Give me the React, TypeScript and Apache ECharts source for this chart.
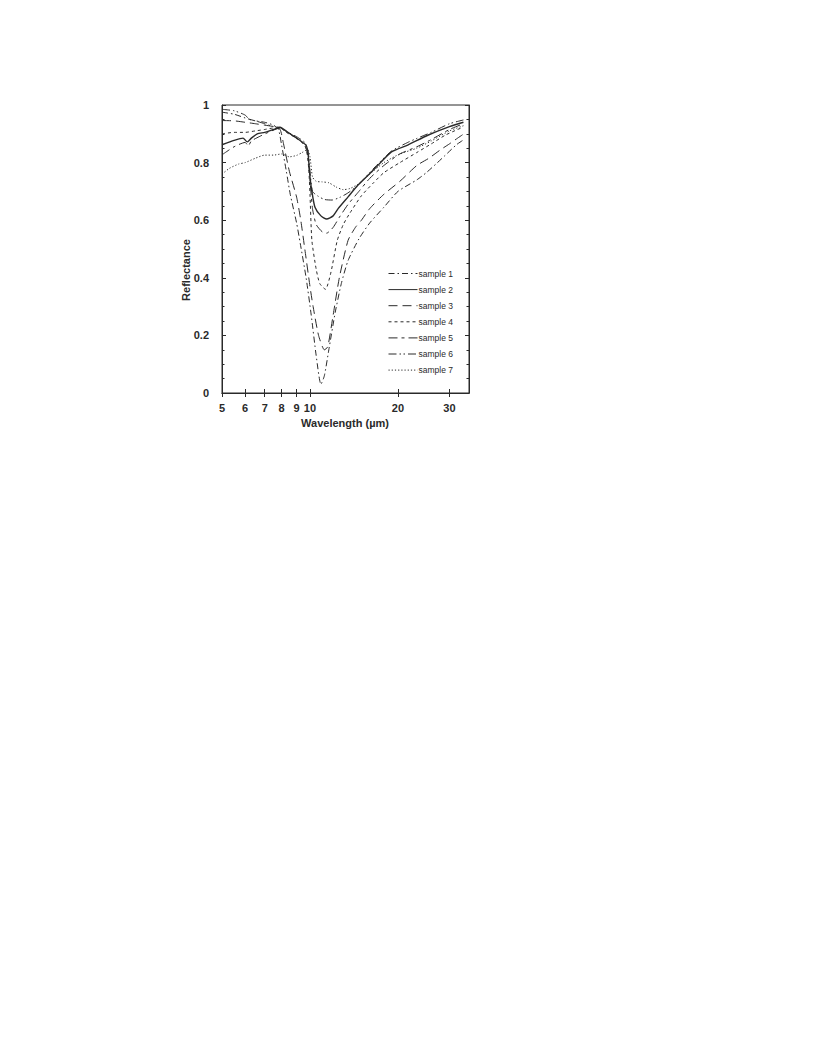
import { useEffect, useRef } from 'react';
import * as echarts from 'echarts';

// Tick labels
const xTickValues = [5, 6, 7, 8, 9, 10, 20, 30];

const sampleNames = ['sample 1', 'sample 2', 'sample 3', 'sample 4', 'sample 5', 'sample 6', 'sample 7'];

// sample 1 (dash-dot)
const s1Wave = [5, 5.5, 6, 6.5, 7, 7.5, 7.8, 8.0, 8.3, 8.56, 9.0, 9.26, 9.7, 10.1, 10.5, 10.9, 11.2, 11.6, 12.2, 12.8, 13.5, 14.7, 16, 17.9, 20, 23.2, 25, 27.1, 29, 31.7, 33.3];
const s1Refl = [0.975, 0.968, 0.955, 0.945, 0.94, 0.93, 0.915, 0.86, 0.77, 0.69, 0.59, 0.52, 0.4, 0.27, 0.13, 0.03, 0.06, 0.15, 0.28, 0.38, 0.46, 0.535, 0.59, 0.645, 0.7, 0.74, 0.765, 0.797, 0.825, 0.862, 0.877];

// sample 2 (solid)
const s2Wave = [5, 5.5, 5.9, 6.1, 6.3, 6.6, 7, 7.5, 7.9, 8.4, 9.0, 9.7, 9.85, 10.0, 10.15, 10.4, 10.9, 11.4, 12.0, 12.5, 13.5, 14.6, 16.7, 19, 21.6, 25.3, 30, 33.5];
const s2Refl = [0.862, 0.877, 0.885, 0.872, 0.885, 0.9, 0.905, 0.915, 0.923, 0.905, 0.885, 0.86, 0.83, 0.75, 0.7, 0.645, 0.615, 0.604, 0.615, 0.641, 0.681, 0.722, 0.78, 0.837, 0.861, 0.895, 0.925, 0.94];

// sample 3 (long dash)
const s3Wave = [5, 5.5, 6, 6.5, 7, 7.5, 7.9, 8.1, 8.5, 9.0, 9.3, 9.6, 10.0, 10.25, 10.7, 11.2, 11.5, 12.0, 12.6, 13.5, 14.3, 15, 16, 17.9, 20.3, 23.2, 25.5, 28, 30, 32, 33.3];
const s3Refl = [0.946, 0.945, 0.94, 0.935, 0.93, 0.925, 0.915, 0.87, 0.77, 0.68, 0.6, 0.5, 0.37, 0.3, 0.2, 0.15, 0.16, 0.27, 0.4, 0.53, 0.575, 0.6, 0.64, 0.69, 0.735, 0.79, 0.815, 0.845, 0.865, 0.885, 0.897];

// sample 4 (short dash)
const s4Wave = [5, 5.5, 6, 6.5, 7, 7.5, 7.9, 8.3, 8.8, 9.3, 9.7, 9.9, 10.0, 10.15, 10.5, 10.8, 11.3, 11.8, 12.4, 13.0, 13.7, 15, 16.5, 17.9, 20.3, 23.2, 26, 29, 32, 33.3];
const s4Refl = [0.9, 0.905, 0.905, 0.91, 0.915, 0.92, 0.92, 0.905, 0.89, 0.875, 0.85, 0.78, 0.69, 0.53, 0.43, 0.38, 0.36, 0.42, 0.53, 0.585, 0.625, 0.685, 0.73, 0.765, 0.8, 0.835, 0.865, 0.895, 0.915, 0.922];

// sample 5 (long-short dash)
const s5Wave = [5, 5.5, 6.0, 6.15, 6.3, 6.7, 7.2, 7.9, 8.4, 9.0, 9.6, 9.85, 10.0, 10.2, 10.5, 11.0, 11.4, 12.0, 12.6, 13.5, 14.7, 16, 17.9, 20.3, 23.2, 26, 30, 33.5];
const s5Refl = [0.827, 0.855, 0.87, 0.858, 0.875, 0.89, 0.905, 0.92, 0.905, 0.885, 0.86, 0.82, 0.74, 0.64, 0.585, 0.56, 0.555, 0.575, 0.61, 0.655, 0.7, 0.745, 0.79, 0.83, 0.855, 0.88, 0.915, 0.935];

// sample 6 (dash-dot-dot)
const s6Wave = [5, 5.5, 6.0, 6.2, 6.5, 7, 7.5, 7.9, 8.4, 9.0, 9.6, 9.85, 10.0, 10.2, 10.6, 11.2, 11.9, 12.7, 13.5, 14.6, 16.7, 19, 21.6, 23.2, 26, 30, 33.5];
const s6Refl = [0.985, 0.98, 0.965, 0.95, 0.945, 0.935, 0.925, 0.922, 0.905, 0.89, 0.87, 0.84, 0.77, 0.7, 0.685, 0.672, 0.67, 0.68, 0.695, 0.722, 0.785, 0.84, 0.87, 0.884, 0.905, 0.935, 0.948];

// sample 7 (dotted)
const s7Wave = [5, 5.3, 5.7, 6.0, 6.5, 7.0, 7.5, 8.0, 8.5, 9.0, 9.4, 9.8, 10.0, 10.2, 10.5, 11.0, 11.6, 12.3, 13.0, 13.7, 14.6, 16.0, 17.9, 20.3, 23.2, 26, 30, 33.5];
const s7Refl = [0.76, 0.78, 0.795, 0.8, 0.815, 0.826, 0.826, 0.83, 0.82, 0.825, 0.835, 0.845, 0.82, 0.75, 0.735, 0.733, 0.73, 0.715, 0.706, 0.71, 0.725, 0.76, 0.8, 0.83, 0.85, 0.875, 0.91, 0.928];

const waves = [s1Wave, s2Wave, s3Wave, s4Wave, s5Wave, s6Wave, s7Wave];
const refls = [s1Refl, s2Refl, s3Refl, s4Refl, s5Refl, s6Refl, s7Refl];

const dashPatterns: (number[] | 'solid')[] = [
  [6, 3, 1.5, 3],
  'solid',
  [9, 5],
  [3, 3],
  [9, 4, 3, 4],
  [8, 3, 1.5, 2.5, 1.5, 3],
  [1.2, 2],
];

const FONT = '"Liberation Sans", Arial, Helvetica, sans-serif';
const INK = '#2a2a2a';

export default function App() {
  const ref = useRef<HTMLDivElement>(null);
  useEffect(() => {
    const chart = echarts.init(ref.current!, null, { renderer: 'svg' });
    const xMin = Math.log10(5);
    const xMax = Math.log10(35);
    const xTicks = xTickValues.map((v) => Math.log10(v));
    const fmtX = (v: number) => String(Math.round(Math.pow(10, v)));
    const fmtY = (v: number) => String(Math.round(v * 10) / 10);

    const series = sampleNames.map((name, i) => ({
      name,
      type: 'line',
      data: waves[i].map((w, j) => [Math.log10(w), refls[i][j]]),
      showSymbol: false,
      symbol: 'none',
      smooth: 0.2,
      lineStyle: {
        color: INK,
        width: i === 1 ? 1.4 : 1,
        type: dashPatterns[i],
      },
      itemStyle: { color: INK },
      emphasis: { disabled: true },
    }));

    chart.setOption({
      animation: false,
      backgroundColor: '#ffffff',
      grid: {
        left: 222,
        right: 347,
        top: 105,
        bottom: 663,
        show: true,
        borderColor: INK,
        borderWidth: 1,
        backgroundColor: 'transparent',
      },
      legend: {
        orient: 'vertical',
        left: 383,
        top: 264,
        itemWidth: 29,
        itemHeight: 10,
        itemGap: 7.1,
        data: sampleNames,
        lineStyle: { width: 1 },
        itemStyle: { color: 'transparent', borderColor: 'transparent', borderWidth: 0 },
        textStyle: { fontFamily: FONT, fontSize: 8.5, color: INK, padding: [0, 0, 0, -4] },
        selectedMode: false,
      },
      xAxis: [
        {
          type: 'value',
          min: xMin,
          max: xMax,
          position: 'bottom',
          axisLine: { show: true, lineStyle: { color: INK, width: 1 } },
          axisTick: { show: true, inside: true, length: 4, customValues: xTicks, lineStyle: { color: INK } },
          axisLabel: {
            show: true,
            customValues: xTicks,
            formatter: fmtX,
            margin: 9,
            fontFamily: FONT,
            fontSize: 11,
            fontWeight: 'bold',
            color: INK,
          },
          splitLine: { show: false },
        },
        {
          type: 'value',
          min: xMin,
          max: xMax,
          position: 'top',
          axisLine: { show: true, lineStyle: { color: INK, width: 1 } },
          axisTick: { show: true, inside: true, length: 4, customValues: xTicks, lineStyle: { color: INK } },
          axisLabel: { show: false },
          splitLine: { show: false },
        },
      ],
      yAxis: [
        {
          type: 'value',
          min: 0,
          max: 1,
          interval: 0.2,
          position: 'left',
          axisLine: { show: true, lineStyle: { color: INK, width: 1 } },
          axisTick: { show: true, inside: true, length: 4, lineStyle: { color: INK } },
          minorTick: { show: true, splitNumber: 4, length: 2.5, lineStyle: { color: INK } },
          axisLabel: {
            formatter: fmtY,
            margin: 13,
            fontFamily: FONT,
            fontSize: 11,
            fontWeight: 'bold',
            color: INK,
          },
          splitLine: { show: false },
        },
        {
          type: 'value',
          min: 0,
          max: 1,
          interval: 0.2,
          position: 'right',
          axisLine: { show: true, lineStyle: { color: INK, width: 1 } },
          axisTick: { show: true, inside: true, length: 4, lineStyle: { color: INK } },
          minorTick: { show: true, splitNumber: 4, length: 2.5, lineStyle: { color: INK } },
          axisLabel: { show: false },
          splitLine: { show: false },
        },
      ],
      graphic: [
        {
          type: 'text',
          x: 186,
          y: 270,
          rotation: Math.PI / 2,
          style: {
            text: 'Reflectance',
            fontFamily: FONT,
            fontSize: 11,
            fontWeight: 'bold',
            fill: INK,
            textAlign: 'center',
            textVerticalAlign: 'middle',
          },
        },
        {
          type: 'text',
          x: 345,
          y: 423,
          style: {
            text: 'Wavelength (\u00b5m)',
            fontFamily: FONT,
            fontSize: 11,
            fontWeight: 'bold',
            fill: INK,
            textAlign: 'center',
            textVerticalAlign: 'middle',
          },
        },
      ],
      series,
    });
    return () => chart.dispose();
  }, []);
  return (
    <div
      ref={ref}
      style={{ position: 'absolute', left: 0, top: 0, width: 816, height: 1056, background: '#fff' }}
    />
  );
}
